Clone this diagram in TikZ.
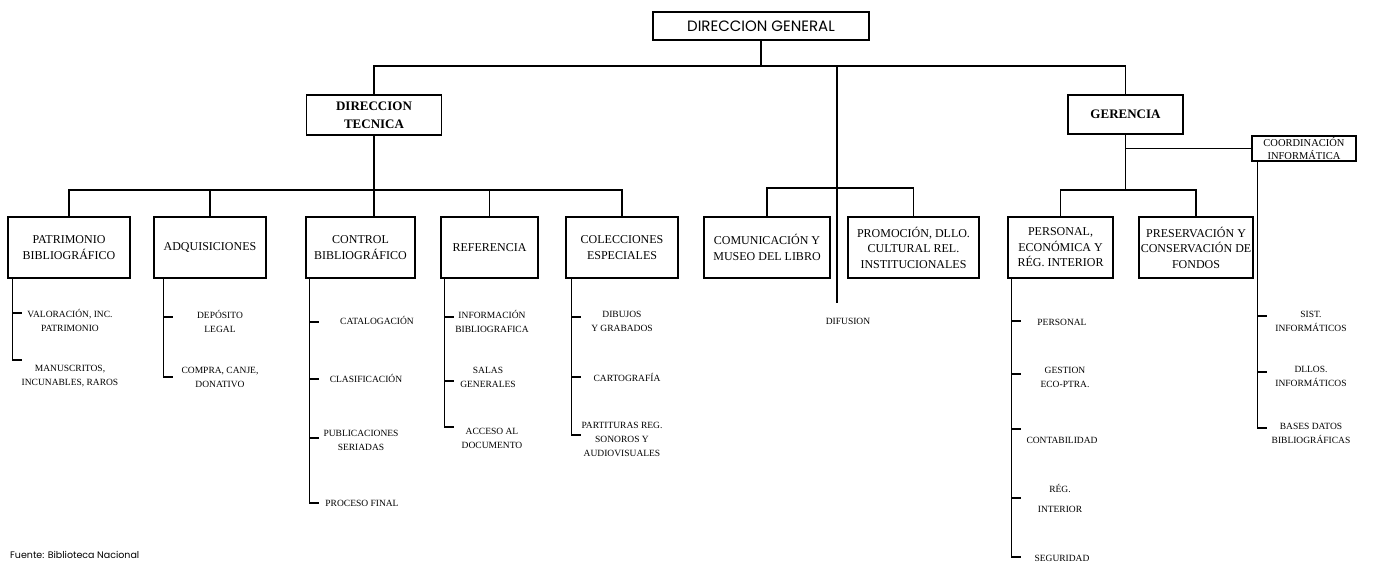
\documentclass[tikz,border=0pt]{standalone}
\usepackage{fontspec}
\setmainfont{Liberation Serif}
\newfontfamily\gothic{Poppins}
\usetikzlibrary{positioning,calc}

\begin{document}
\begin{tikzpicture}[x=1pt,y=-1pt,
	orgbox/.style={draw,line width=1.7pt,align=center,inner sep=1pt,font=\fontsize{12}{15.5}\selectfont},
	headbox/.style={orgbox,font=\fontsize{13}{18}\selectfont\bfseries},
	item/.style={align=center,inner sep=0pt,font=\fontsize{9.5}{14}\selectfont},
	link/.style={line width=1.2pt}]
\useasboundingbox (0,0) rectangle (1374,563);

		% top levels
		\node[draw,line width=1.6pt,minimum width=216,minimum height=28,font=\gothic\fontsize{15}{17}\selectfont] (dg) at (761,26) {DIRECCION GENERAL};
		\node[headbox,minimum width=135,minimum height=40] (dt) at (374,115) {DIRECCION\\TECNICA};
		\node[headbox,minimum width=115,minimum height=39] (ger) at (1125.5,114.5) {GERENCIA};
		\node[orgbox,minimum width=104,minimum height=25,font=\fontsize{10.5}{13}\selectfont] (coo) at (1304,148.5) {COORDINACIÓN\\INFORMÁTICA};

		% departments
		\node[orgbox,minimum width=122,minimum height=61] (pat) at (69,247.5) {PATRIMONIO\\BIBLIOGRÁFICO};
		\node[orgbox,minimum width=112,minimum height=61] (adq) at (210,247.5) {ADQUISICIONES};
		\node[orgbox,minimum width=109,minimum height=61] (con) at (360.5,247.5) {CONTROL\\BIBLIOGRÁFICO};
		\node[orgbox,minimum width=97,minimum height=61] (ref) at (489.5,247.5) {REFERENCIA};
		\node[orgbox,minimum width=112,minimum height=61] (col) at (622,247.5) {COLECCIONES\\ESPECIALES};
		\node[orgbox,minimum width=126,minimum height=61] (com) at (767,247.5) {COMUNICACIÓN Y\\MUSEO DEL LIBRO};
		\node[orgbox,minimum width=131,minimum height=61] (pro) at (913.5,247.5) {PROMOCIÓN, DLLO.\\CULTURAL REL.\\INSTITUCIONALES};
		\node[orgbox,minimum width=105,minimum height=61] (per) at (1060.5,247.5) {PERSONAL,\\ECONÓMICA Y\\RÉG. INTERIOR};
		\node[orgbox,minimum width=114,minimum height=61] (pre) at (1196,247.5) {PRESERVACIÓN Y\\CONSERVACIÓN DE\\FONDOS};

		% main bus
		\draw[link] (dg.south) -- (dg.south |- 0,66) coordinate (hub);
		\draw[link] (dt.north) |- (hub) -| (ger.north);

		% DIFUSION
		\coordinate (difTop) at (837,66);
		\coordinate (difBus) at (837,188);
		\coordinate (difEnd) at (837,303);
		\draw[link] (difTop) -- (difEnd);
		\draw[link] (com.north) |- (difBus) -| (pro.north);
		\node[item] (dif) at (848,321) {DIFUSION};

		% tecnica bus
		\draw[link] (dt.south) -- (dt.south |- con.north);
		\coordinate (dtBus) at (dt.south |- 0,190);
		\draw[link] (pat.north) |- (dtBus) -| (col.north);
		\draw[link] (adq.north) -- (adq.north |- dtBus);
		\draw[link] (ref.north) -- (ref.north |- dtBus);

		% gerencia bus
		\draw[link] (ger.south) -- (ger.south |- 0,190) coordinate (gBus);
		\draw[link] (per.north) |- (gBus) -| (pre.north);
		\draw[link] (ger.south |- coo.west) -- (coo.west);

		% PATRIMONIO items
		\coordinate (patB) at ($(pat.south west)+(5,0)$);
		\draw[link] (patB) -- (patB |- 0,360);
		\foreach \ty/\ly/\txt [count=\i] in {313/320/{VALORACIÓN, INC.\\PATRIMONIO},360/376/{MANUSCRITOS,\\INCUNABLES, RAROS}} {
			\draw[link] (patB |- 0,\ty) -- ++(10,0);
			\node[item] (pat\i) at (70,\ly) {\txt};
		}

		% ADQUISICIONES items
		\coordinate (adqB) at ($(adq.south west)+(10,0)$);
		\draw[link] (adqB) -- (adqB |- 0,377);
		\foreach \ty/\ly/\txt [count=\i] in {317/321/{DEPÓSITO\\LEGAL},377/377/{COMPRA, CANJE,\\DONATIVO}} {
			\draw[link] (adqB |- 0,\ty) -- ++(10,0);
			\node[item] (adq\i) at (220,\ly) {\txt};
		}

		% CONTROL items
		\coordinate (conB) at ($(con.south west)+(4,0)$);
		\draw[link] (conB) -- (conB |- 0,503);
		\foreach \ty/\ly/\cx/\txt [count=\i] in {322/320/377/{CATALOGACIÓN},379/378/366/{CLASIFICACIÓN},438/440/361/{PUBLICACIONES\\SERIADAS},503/503/362/{PROCESO FINAL}} {
			\draw[link] (conB |- 0,\ty) -- ++(10,0);
			\node[item] (con\i) at (\cx,\ly) {\txt};
		}

		% REFERENCIA items
		\coordinate (refB) at ($(ref.south west)+(4,0)$);
		\draw[link] (refB) -- (refB |- 0,427);
		\foreach \ty/\ly/\cx/\txt [count=\i] in {317/321/492/{INFORMACIÓN\\BIBLIOGRAFICA},381/377/488/{SALAS\\GENERALES},427/438/492/{ACCESO AL\\DOCUMENTO}} {
			\draw[link] (refB |- 0,\ty) -- ++(10,0);
			\node[item] (ref\i) at (\cx,\ly) {\txt};
		}

		% COLECCIONES items
		\coordinate (colB) at ($(col.south west)+(6,0)$);
		\draw[link] (colB) -- (colB |- 0,435);
		\foreach \ty/\ly/\cx/\txt [count=\i] in {317/321/622/{DIBUJOS\\Y GRABADOS},377/377/627/{CARTOGRAFÍA},435/439/622/{PARTITURAS REG.\\SONOROS Y\\AUDIOVISUALES}} {
			\draw[link] (colB |- 0,\ty) -- ++(10,0);
			\node[item] (col\i) at (\cx,\ly) {\txt};
		}

		% PERSONAL items
		\coordinate (perB) at ($(per.south west)+(4,0)$);
		\draw[link] (perB) -- (perB |- 0,557);
		\foreach \ty/\ly/\cx/\txt [count=\i] in {321/322/1062/{PERSONAL},374/377/1065/{GESTION\\ECO-PTRA.},429/440/1062/{CONTABILIDAD},498/498/1060/{RÉG.\\[6pt]INTERIOR},557/558/1062/{SEGURIDAD}} {
			\draw[link] (perB |- 0,\ty) -- ++(10,0);
			\node[item] (per\i) at (\cx,\ly) {\txt};
		}

		% COORDINACION items
		\coordinate (cooB) at ($(coo.south west)+(6,0)$);
		\draw[link] (cooB) -- (cooB |- 0,428);
		\foreach \ty/\ly/\txt [count=\i] in {316/321/{SIST.\\INFORMÁTICOS},372/376/{DLLOS.\\INFORMÁTICOS},428/433/{BASES DATOS\\BIBLIOGRÁFICAS}} {
			\draw[link] (cooB |- 0,\ty) -- ++(10,0);
			\node[item] (coo\i) at (1311,\ly) {\txt};
		}

		% source
		\node[anchor=west,inner sep=0pt,font=\gothic\fontsize{9.5}{11}\selectfont] (fuente) at (10,555) {Fuente: Biblioteca Nacional};
\end{tikzpicture}
\end{document}
